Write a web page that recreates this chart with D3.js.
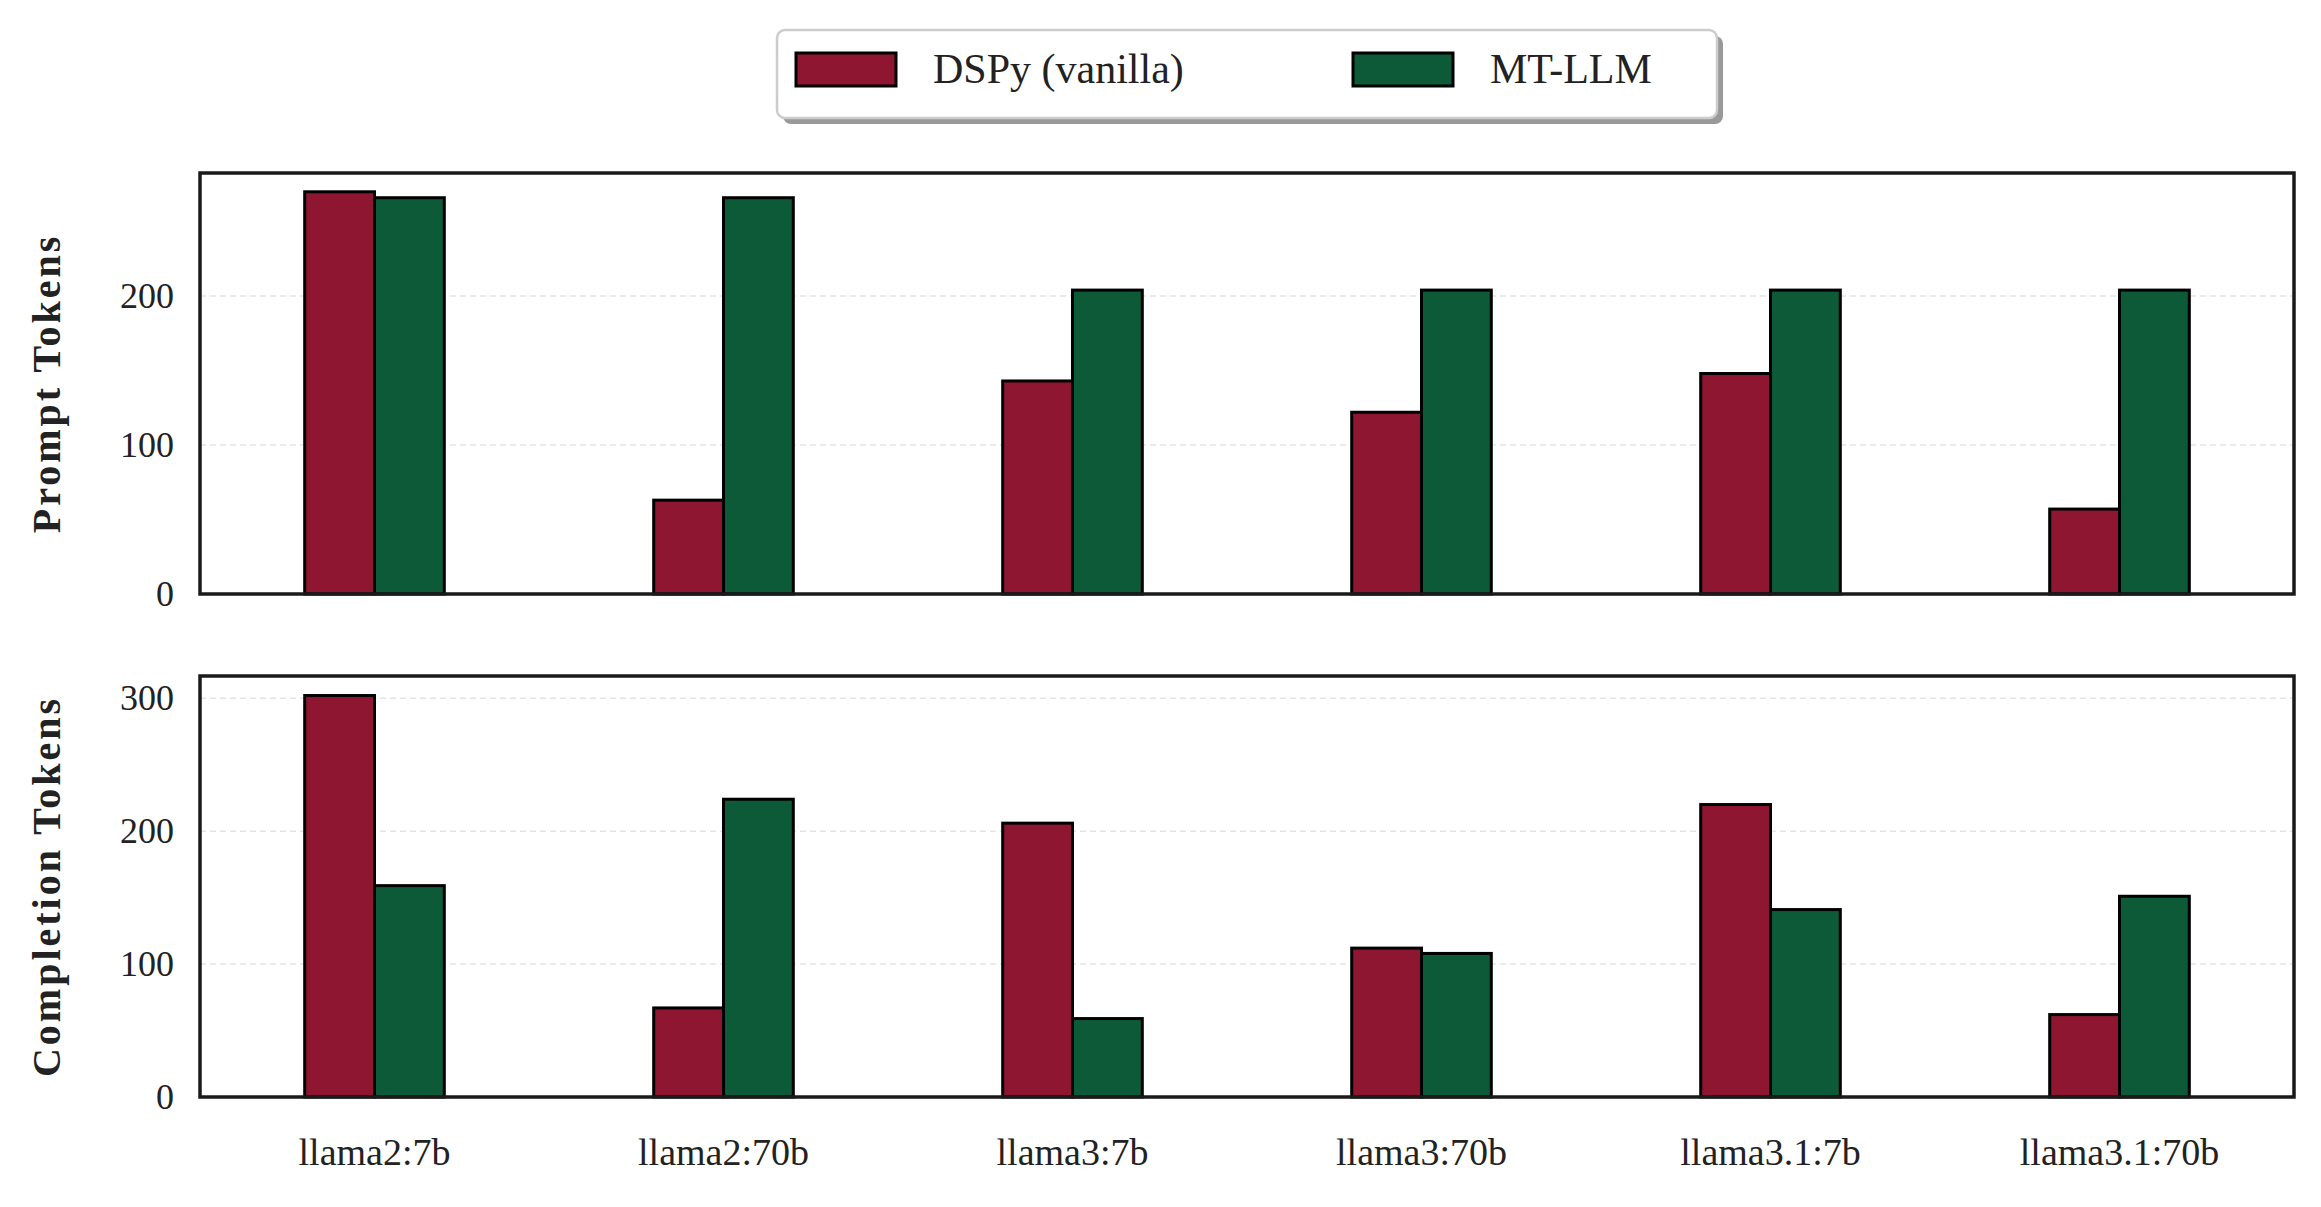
<!DOCTYPE html>
<html><head><meta charset="utf-8">
<script src="https://cdn.jsdelivr.net/npm/d3@7"></script>
<style>body{margin:0;background:#fff}</style></head>
<body><div class="board"></div>
<script>
var categories = ['llama2:7b', 'llama2:70b', 'llama3:7b', 'llama3:70b', 'llama3.1:7b', 'llama3.1:70b'];
var seriesNames = ['DSPy (vanilla)', 'MT-LLM'];
var promptDspy = [270, 63, 143, 122, 148, 57];
var promptMt = [266, 266, 204, 204, 204, 204];
var complDspy = [302, 67, 206, 112, 220, 62];
var complMt = [159, 224, 59, 108, 141, 151];
var promptTicks = [0, 100, 200];
var complTicks = [0, 100, 200, 300];

var colors = ['#8e1630', '#0d5a38'];
var font = '"Liberation Serif", "DejaVu Serif", serif';
var W = 2321, H = 1207;
var left = 200, right = 2294;

var svg = d3.select('.board').append('svg').attr('width', W).attr('height', H);

var x = d3.scaleLinear().domain([-0.5, 5.5]).range([left, right]);

function panel(top, bottom, ymax, dspy, mt, ticks, label, showX) {
  var y = d3.scaleLinear().domain([0, ymax]).range([bottom, top]);
  var g = svg.append('g');
  g.selectAll('line.grid').data(ticks.slice(1)).enter().append('line')
    .attr('x1', left).attr('x2', right)
    .attr('y1', function(d) { return y(d); }).attr('y2', function(d) { return y(d); })
    .style('stroke', '#e3e3e3').style('stroke-width', 1.5).style('stroke-dasharray', '6,4');
  [dspy, mt].forEach(function(vals, s) {
    g.selectAll('rect.s' + s).data(vals).enter().append('rect')
      .attr('x', function(d, i) { return x(i - 0.2 + s * 0.2); })
      .attr('width', x(0.2) - x(0))
      .attr('y', function(d) { return y(d); })
      .attr('height', function(d) { return y(0) - y(d); })
      .style('fill', colors[s]).style('stroke', '#000').style('stroke-width', 3);
  });
  g.append('rect').attr('x', left).attr('y', top).attr('width', right - left).attr('height', bottom - top)
    .style('fill', 'none').style('stroke', '#1a1a1a').style('stroke-width', 3.5);
  g.selectAll('text.tick').data(ticks).enter().append('text')
    .attr('x', left - 26).attr('y', function(d) { return y(d) + 12; })
    .attr('text-anchor', 'end').style('font-family', font).style('font-size', '36px').style('fill', '#222')
    .text(function(d) { return d; });
  g.append('text').attr('transform', 'translate(60,' + ((top + bottom) / 2) + ') rotate(-90)')
    .attr('text-anchor', 'middle').style('font-family', font).style('font-size', '40px')
    .style('font-weight', 'bold').style('letter-spacing', '3px').style('fill', '#222').text(label);
  if (showX) {
    g.selectAll('text.xl').data(categories).enter().append('text')
      .attr('x', function(d, i) { return x(i); }).attr('y', bottom + 68)
      .attr('text-anchor', 'middle').style('font-family', font).style('font-size', '38px').style('fill', '#222')
      .text(function(d) { return d; });
  }
}

panel(173, 594, 282.6, promptDspy, promptMt, promptTicks, 'Prompt Tokens', false);
panel(676, 1097, 316.7, complDspy, complMt, complTicks, 'Completion Tokens', true);

// legend
var lg = svg.append('g');
lg.append('rect').attr('x', 783).attr('y', 36).attr('width', 940).attr('height', 88).attr('rx', 8)
  .style('fill', '#999');
lg.append('rect').attr('x', 777).attr('y', 30).attr('width', 940).attr('height', 88).attr('rx', 8)
  .style('fill', '#fff').style('stroke', '#ccc').style('stroke-width', 2.5);
var lx = [796, 1353];
seriesNames.forEach(function(n, i) {
  lg.append('rect').attr('x', lx[i]).attr('y', 53).attr('width', 100).attr('height', 33)
    .style('fill', colors[i]).style('stroke', '#000').style('stroke-width', 3);
  lg.append('text').attr('x', lx[i] + 137).attr('y', 83).style('font-family', font)
    .style('font-size', '42px').style('fill', '#222').text(n);
});
</script></body></html>
